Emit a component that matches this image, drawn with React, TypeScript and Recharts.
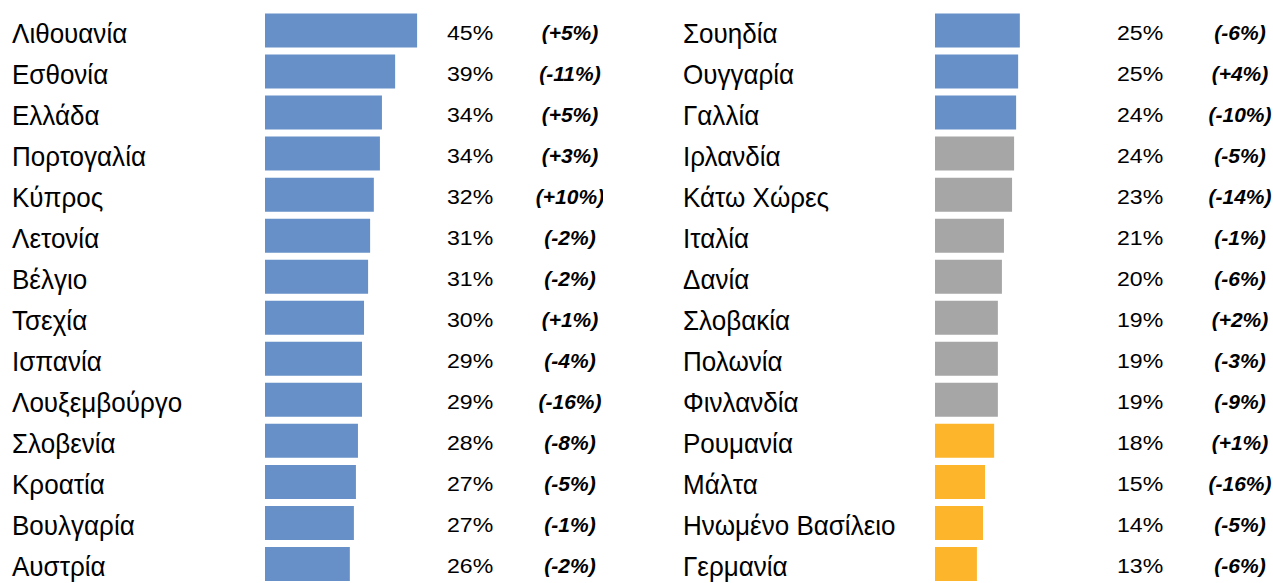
import React from 'react';
import { BarChart, Bar, XAxis, YAxis, Cell, LabelList } from 'recharts';

const leftCountries = ['Λιθουανία', 'Εσθονία', 'Ελλάδα', 'Πορτογαλία', 'Κύπρος', 'Λετονία', 'Βέλγιο', 'Τσεχία', 'Ισπανία', 'Λουξεμβούργο', 'Σλοβενία', 'Κροατία', 'Βουλγαρία', 'Αυστρία'];
const leftShare = [45.0, 38.5, 34.6, 34.0, 32.2, 31.1, 30.5, 29.3, 28.7, 28.7, 27.5, 26.9, 26.3, 25.1];
const leftPct = ['45%', '39%', '34%', '34%', '32%', '31%', '31%', '30%', '29%', '29%', '28%', '27%', '27%', '26%'];
const leftChange = ['(+5%)', '(-11%)', '(+5%)', '(+3%)', '(+10%)', '(-2%)', '(-2%)', '(+1%)', '(-4%)', '(-16%)', '(-8%)', '(-5%)', '(-1%)', '(-2%)'];
const leftGroup = ['high', 'high', 'high', 'high', 'high', 'high', 'high', 'high', 'high', 'high', 'high', 'high', 'high', 'high'];

const rightCountries = ['Σουηδία', 'Ουγγαρία', 'Γαλλία', 'Ιρλανδία', 'Κάτω Χώρες', 'Ιταλία', 'Δανία', 'Σλοβακία', 'Πολωνία', 'Φινλανδία', 'Ρουμανία', 'Μάλτα', 'Ηνωμένο Βασίλειο', 'Γερμανία'];
const rightShare = [25.1, 24.6, 24.0, 23.4, 22.8, 20.4, 19.8, 18.6, 18.6, 18.6, 17.5, 14.8, 14.2, 12.4];
const rightPct = ['25%', '25%', '24%', '24%', '23%', '21%', '20%', '19%', '19%', '19%', '18%', '15%', '14%', '13%'];
const rightChange = ['(-6%)', '(+4%)', '(-10%)', '(-5%)', '(-14%)', '(-1%)', '(-6%)', '(+2%)', '(-3%)', '(-9%)', '(+1%)', '(-16%)', '(-5%)', '(-6%)'];
const rightGroup = ['high', 'high', 'high', 'mid', 'mid', 'mid', 'mid', 'mid', 'mid', 'mid', 'low', 'low', 'low', 'low'];

const colors: Record<string, string> = { high: '#6690C7', mid: '#A6A6A6', low: '#FDB52B' };
const font = '"Liberation Sans", Arial, sans-serif';

const build = (names: string[], share: number[], pct: string[], change: string[], group: string[]) =>
  names.map((name, i) => ({ name, share: share[i], pct: pct[i], change: change[i], group: group[i] }));

const NameTick = (props: any) => {
  const { y, payload, nameX } = props;
  return (
    <text transform={`translate(${nameX},${y + 13}) scale(0.93,1)`} fontSize={28} fontFamily={font} fill="#000">
      {payload.value}
    </text>
  );
};

const Column: React.FC<{ data: any[]; nameX: number }> = ({ data, nameX }) => (
  <BarChart
    width={603}
    height={584}
    data={data}
    layout="vertical"
    margin={{ top: 9.5, right: 169, bottom: 0, left: 0 }}
    barSize={34}
  >
    <XAxis type="number" domain={[0, 50]} hide />
    <YAxis
      type="category"
      dataKey="name"
      width={265}
      axisLine={false}
      tickLine={false}
      interval={0}
      tick={(p: any) => <NameTick {...p} nameX={nameX} />}
    />
    <Bar dataKey="share" isAnimationActive={false}>
      {data.map((d, i) => (
        <Cell key={i} fill={colors[d.group]} />
      ))}
      <LabelList
        dataKey="pct"
        content={(p: any) => (
          <text
            transform={`translate(447,${Number(p.y) + Number(p.height) / 2 + 9}) scale(1.1,1)`}
            fontSize={21}
            fontFamily={font}
            fill="#000"
          >
            {p.value}
          </text>
        )}
      />
      <LabelList
        dataKey="change"
        content={(p: any) => (
          <text
            x={570}
            y={Number(p.y) + Number(p.height) / 2 + 9}
            fontSize={21}
            fontWeight="bold"
            fontStyle="italic"
            textAnchor="middle"
            fontFamily={font}
            fill="#000"
          >
            {p.value}
          </text>
        )}
      />
    </Bar>
  </BarChart>
);

export default function App() {
  const left = build(leftCountries, leftShare, leftPct, leftChange, leftGroup);
  const right = build(rightCountries, rightShare, rightPct, rightChange, rightGroup);
  return (
    <div style={{ position: 'absolute', left: 0, top: 0, width: 1273, height: 583, overflow: 'hidden', background: '#fff' }}>
      <div style={{ position: 'absolute', left: 0, top: 0 }}>
        <Column data={left} nameX={12} />
      </div>
      <div style={{ position: 'absolute', left: 670, top: 0 }}>
        <Column data={right} nameX={13} />
      </div>
    </div>
  );
}
